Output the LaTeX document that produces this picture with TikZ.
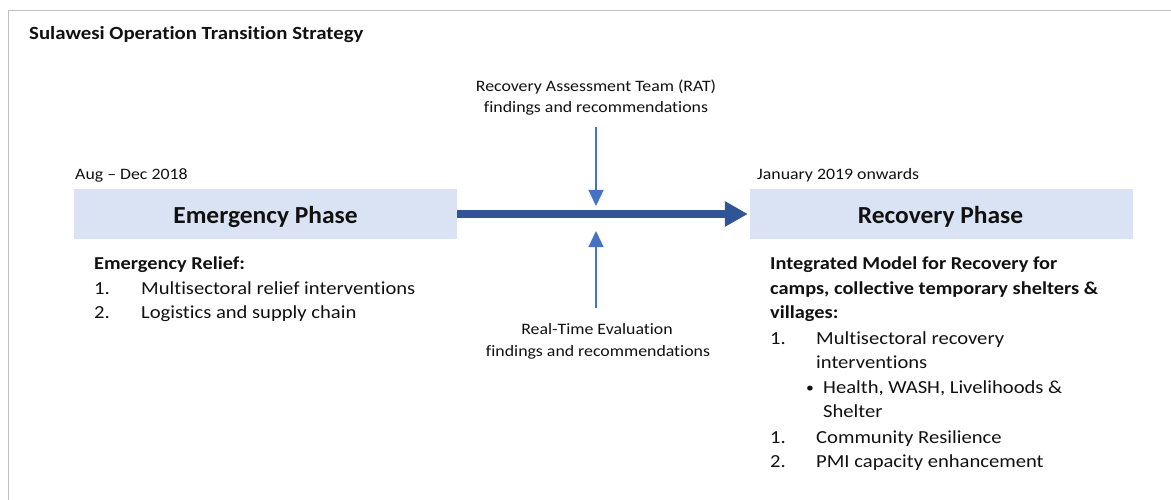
\documentclass[tikz,border=0pt]{standalone}
\usepackage{fontspec}
\setmainfont[Ligatures={TeX,NoCommon},FakeStretch=1.12]{Carlito}
\newfontfamily\headfont[Ligatures={TeX,NoCommon},FakeStretch=1.04]{Carlito}
\usetikzlibrary{arrows.meta,calc}
\definecolor{phasefill}{HTML}{DAE3F3}
\definecolor{mainarrow}{HTML}{2F5597}
\definecolor{inputarrow}{HTML}{4472C4}
\definecolor{framegray}{HTML}{C0C0C0}
\definecolor{textcol}{HTML}{111111}
\tikzset{
  phasebox/.style={fill=phasefill, minimum width=383pt, minimum height=50pt, inner sep=0pt},
  phasetitle/.style={font=\headfont\fontsize{24.5}{28}\selectfont\bfseries, text=textcol, inner sep=0pt, anchor=base},
  smalltext/.style={font=\fontsize{15.9}{21}\selectfont, text=textcol, inner sep=0pt},
  bodytext/.style={font=\fontsize{18.4}{24}\selectfont, text=textcol, inner sep=0pt, anchor=base west},
  boldtext/.style={bodytext, font=\fontsize{18.2}{24}\selectfont\bfseries},
  flowarrow/.style={draw=mainarrow, line width=7.5pt, shorten >=2pt, -{Triangle[length=23pt,width=24pt]}},
  feedarrow/.style={draw=inputarrow, line width=1.3pt, -{Triangle[length=16pt,width=15pt]}}
}
\begin{document}
\begin{tikzpicture}[x=1pt,y=-1pt]
\useasboundingbox (0,0) rectangle (1171,500);
% outer frame (top and left edges)
\draw[framegray, line width=1pt] (8,500) -- (8,11) -- (1171,11);

% title
\node[anchor=base west, inner sep=0pt, font=\fontsize{18.6}{22}\selectfont\bfseries, text=textcol] (title) at (29,40) {Sulawesi Operation Transition Strategy};

% phases
\node[phasebox] (emerg) at (265.5,214) {};
\node[phasebox] (recov) at (941.5,214) {};
\node[phasetitle] (emergt) at (265.5,223.5) {Emergency Phase};
\node[phasetitle] (recovt) at (940.5,223.5) {Recovery Phase};
\node[smalltext, anchor=base west] (emergdate) at (75,179) {Aug – Dec 2018};
\node[smalltext, anchor=base west] (recovdate) at (757,179) {January 2019 onwards};

% transition arrow
\draw[flowarrow] (emerg.east) -- (recov.west);

% inputs feeding the transition
\node[smalltext, anchor=base] (rat1) at (596,92) {Recovery Assessment Team (RAT)};
\node[smalltext, anchor=base] (rat2) at (596,113) {findings and recommendations};
\node[smalltext, anchor=base] (rte1) at (597,334) {Real-Time Evaluation};
\node[smalltext, anchor=base] (rte2) at (598,356) {findings and recommendations};
\coordinate (ratstart) at (596,127);
\coordinate (ratend) at (596,206);
\coordinate (rtestart) at (596,308);
\coordinate (rteend) at (596,231);
\draw[feedarrow] (ratstart) -- (ratend);
\draw[feedarrow] (rtestart) -- (rteend);

% emergency details
\node[boldtext] (er) at (94,269.5) {Emergency Relief:};
\node[bodytext] (e1n) at (94,294.5) {1.};
\node[bodytext] (e1) at (141,294.5) {Multisectoral relief interventions};
\node[bodytext] (e2n) at (94,318.5) {2.};
\node[bodytext] (e2) at (141,318.5) {Logistics and supply chain};

% recovery details
\node[boldtext] (im1) at (770,269.5) {Integrated Model for Recovery for};
\node[boldtext] (im2) at (770,294) {camps, collective temporary shelters \&};
\node[boldtext] (im3) at (770,318) {villages:};
\node[bodytext] (r1n) at (770,344) {1.};
\node[bodytext] (r1) at (816,344) {Multisectoral recovery};
\node[bodytext] (r1b) at (816,368) {interventions};
\node[bodytext, font=\fontsize{14}{14}\selectfont] (rbul) at (806,392) {•};
\node[bodytext] (rb1) at (823,393) {Health, WASH, Livelihoods \&};
\node[bodytext] (rb2) at (823,417) {Shelter};
\node[bodytext] (r2n) at (770,443) {1.};
\node[bodytext] (r2) at (816,443) {Community Resilience};
\node[bodytext] (r3n) at (770,467) {2.};
\node[bodytext] (r3) at (816,467) {PMI capacity enhancement};
\end{tikzpicture}
\end{document}
